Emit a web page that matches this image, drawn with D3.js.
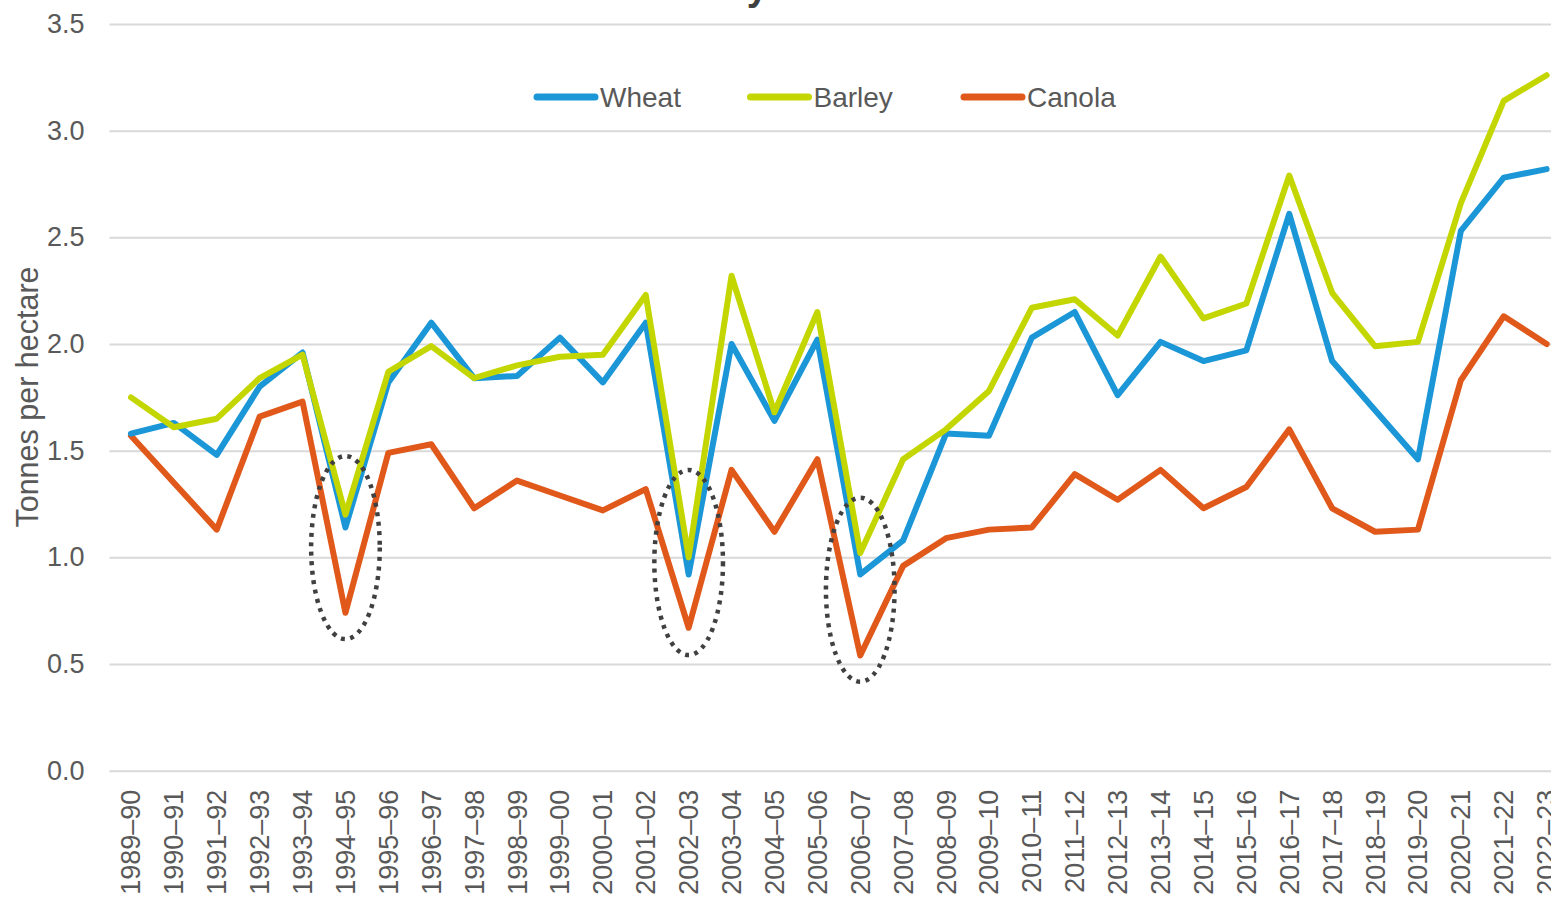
<!DOCTYPE html>
<html>
<head>
<meta charset="utf-8">
<script src="https://cdn.jsdelivr.net/npm/d3@7"></script>
<style>
  html, body { margin: 0; padding: 0; background: #ffffff; overflow: hidden; }
  svg { display: block; font-family: "Liberation Sans", Arial, sans-serif; }
</style>
</head>
<body>
<svg id="chart" width="1551" height="901"></svg>
<script>
// ---------- data ----------
const categories = ["1989–90","1990–91","1991–92","1992–93","1993–94","1994–95","1995–96","1996–97","1997–98","1998–99","1999–00","2000–01","2001–02","2002–03","2003–04","2004–05","2005–06","2006–07","2007–08","2008–09","2009–10","2010–11","2011–12","2012–13","2013–14","2014–15","2015–16","2016–17","2017–18","2018–19","2019–20","2020–21","2021–22","2022–23"];
const wheat  = [1.58,1.63,1.48,1.80,1.96,1.14,1.82,2.10,1.84,1.85,2.03,1.82,2.10,0.92,2.00,1.64,2.02,0.92,1.08,1.58,1.57,2.03,2.15,1.76,2.01,1.92,1.97,2.61,1.92,1.69,1.46,2.53,2.78,2.82];
const barley = [1.75,1.61,1.65,1.84,1.95,1.20,1.87,1.99,1.84,1.90,1.94,1.95,2.23,1.00,2.32,1.68,2.15,1.02,1.46,1.60,1.78,2.17,2.21,2.04,2.41,2.12,2.19,2.79,2.24,1.99,2.01,2.66,3.14,3.26];
const canola = [1.57,1.35,1.13,1.66,1.73,0.74,1.49,1.53,1.23,1.36,1.29,1.22,1.32,0.67,1.41,1.12,1.46,0.54,0.96,1.09,1.13,1.14,1.39,1.27,1.41,1.23,1.33,1.60,1.23,1.12,1.13,1.83,2.13,2.00];
const seriesNames = ["Wheat","Barley","Canola"];
const yTicks = [0,0.5,1.0,1.5,2.0,2.5,3.0,3.5];
const highlightCats = ["1994–95","2002–03","2006–07"];
const highlightTop = [1.475,1.41,1.28];
const highlightBottom = [0.617,0.542,0.417];
const titleText = "Grain yields";
const yTitle = "Tonnes per hectare";

// ---------- layout ----------
const colors = { Wheat: "#1b96d6", Barley: "#c4d600", Canola: "#e0581a" };
const svg = d3.select("#chart");
const W = 1551;
const plotLeft = 109.5, step = 42.9;
const x = d3.scaleBand().domain(categories).range([plotLeft, plotLeft + step * categories.length]).padding(0);
const y = d3.scaleLinear().domain([0, 3.5]).range([770.7, 24]);
const cx = c => x(c) + x.bandwidth() / 2;

// title (cropped at top, as in the source)
svg.append("text")
  .attr("x", 637).attr("y", 0)
  .attr("font-size", 38).attr("font-weight", "bold")
  .attr("fill", "#404040")
  .text(titleText);

// y axis with gridlines
const yAxis = svg.append("g")
  .attr("transform", `translate(${plotLeft},0)`)
  .call(d3.axisLeft(y).tickValues(yTicks).tickFormat(d3.format(".1f"))
    .tickSizeInner(-(W - plotLeft)).tickSizeOuter(0).tickPadding(25));
yAxis.select(".domain").remove();
yAxis.selectAll(".tick line").attr("stroke", "#d9d9d9").attr("stroke-width", 2);
yAxis.selectAll(".tick text").attr("fill", "#595959").attr("font-size", 27)
  .attr("font-family", "'Liberation Sans', Arial, sans-serif");

// x axis labels
const xAxis = svg.append("g")
  .attr("transform", `translate(0,${y(0)})`)
  .call(d3.axisBottom(x).tickSize(0));
xAxis.select(".domain").remove();
xAxis.selectAll(".tick text")
  .attr("fill", "#595959").attr("font-size", 27)
  .attr("font-family", "'Liberation Sans', Arial, sans-serif")
  .attr("transform", "rotate(-90)")
  .attr("text-anchor", "end")
  .attr("x", -19).attr("y", 0).attr("dy", "0.35em");

// y axis title
svg.append("text")
  .attr("transform", "translate(27,397) rotate(-90)")
  .attr("text-anchor", "middle").attr("dy", "0.35em")
  .attr("font-size", 30.5).attr("fill", "#595959")
  .text(yTitle);

// lines
const seriesData = { Wheat: wheat, Barley: barley, Canola: canola };
const line = d3.line().x((d, i) => cx(categories[i])).y(d => y(d));
["Canola","Wheat","Barley"].forEach(name => {
  svg.append("path")
    .datum(seriesData[name])
    .attr("fill", "none")
    .attr("stroke", colors[name])
    .attr("stroke-width", 6)
    .attr("stroke-linejoin", "round")
    .attr("stroke-linecap", "round")
    .attr("d", line);
});

// dotted highlight ellipses
highlightCats.forEach((c, i) => {
  const top = y(highlightTop[i]), bot = y(highlightBottom[i]);
  svg.append("ellipse")
    .attr("cx", cx(c))
    .attr("cy", (top + bot) / 2)
    .attr("rx", step * 0.8)
    .attr("ry", (bot - top) / 2)
    .attr("fill", "none")
    .attr("stroke", "#404040")
    .attr("stroke-width", 4.5)
    .attr("stroke-dasharray", "4,5.5");
});

// legend
const legendX0 = 533, legendSpacing = 213.5, legendY = 97;
seriesNames.forEach((name, i) => {
  const gx = legendX0 + i * legendSpacing;
  svg.append("line")
    .attr("x1", gx + 4).attr("x2", gx + 62)
    .attr("y1", legendY).attr("y2", legendY)
    .attr("stroke", colors[name]).attr("stroke-width", 7)
    .attr("stroke-linecap", "round");
  svg.append("text")
    .attr("x", gx + 67).attr("y", legendY).attr("dy", "0.35em")
    .attr("font-size", 28).attr("fill", "#595959")
    .text(name);
});
</script>
</body>
</html>
